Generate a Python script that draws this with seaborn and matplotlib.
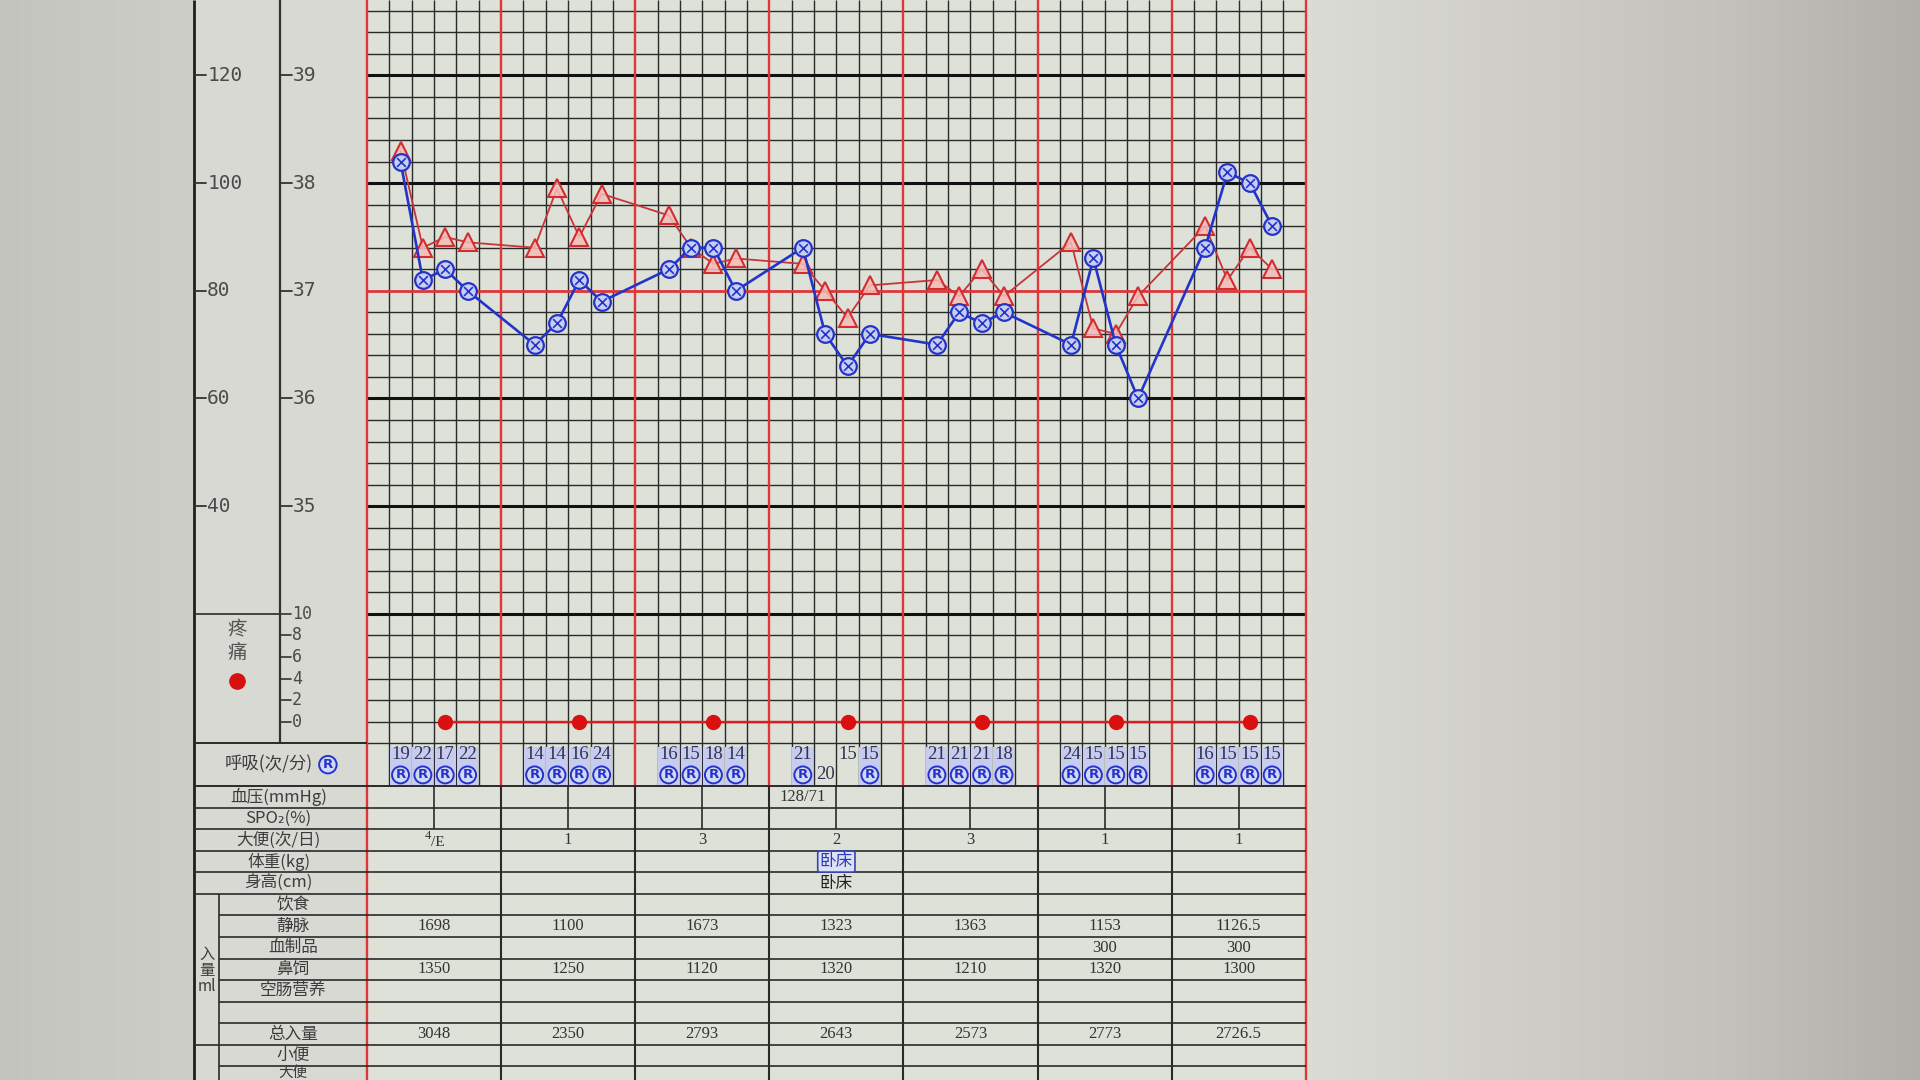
import numpy as np
import pandas as pd
import matplotlib
matplotlib.use("Agg")
import matplotlib.pyplot as plt
from matplotlib.patches import Rectangle
from matplotlib.colors import LinearSegmentedColormap
import seaborn as sns

sns.set_style("white")
plt.rcParams['font.family'] = ['Noto Sans CJK SC', 'DejaVu Sans']

# ---------------- values ----------------
day_no = [1, 2, 3, 4, 5, 6, 7]
slot_no = [1, 2, 3, 4]          # 6 time slots a day, readings in slots 1..4

temperature = [38.3, 37.4, 37.5, 37.45,
               37.4, 37.95, 37.5, 37.9,
               37.7, 37.4, 37.25, 37.3,
               37.25, 37.0, 36.75, 37.05,
               37.1, 36.95, 37.2, 36.95,
               37.45, 36.65, 36.6, 36.95,
               37.6, 37.1, 37.4, 37.2]
pulse = [104, 82, 84, 80,
         70, 74, 82, 78,
         84, 88, 88, 80,
         88, 72, 66, 72,
         70, 76, 74, 76,
         70, 86, 70, 60,
         88, 102, 100, 92]
resp = [19, 22, 17, 22,
        14, 14, 16, 24,
        16, 15, 18, 14,
        21, 20, 15, 15,
        21, 21, 21, 18,
        24, 15, 15, 15,
        16, 15, 15, 15]
resp_r = [True, True, True, True,
          True, True, True, True,
          True, True, True, True,
          True, False, False, True,
          True, True, True, True,
          True, True, True, True,
          True, True, True, True]
pain = [0, 0, 0, 0, 0, 0, 0]
pain_slot = 3

blood_pressure = ['', '', '', '128/71', '', '', '']
stool = ['4/E', '1', '3', '2', '3', '1', '1']
weight = ['', '', '', '卧床', '', '', '']
height = ['', '', '', '卧床', '', '', '']
iv_in = ['1698', '1100', '1673', '1323', '1363', '1153', '1126.5']
blood_in = ['', '', '', '', '', '300', '300']
tube_in = ['1350', '1250', '1120', '1320', '1210', '1320', '1300']
total_in = ['3048', '2350', '2793', '2643', '2573', '2773', '2726.5']

pulse_ticks = [120, 100, 80, 60, 40]
temp_ticks = [39, 38, 37, 36, 35]
pain_ticks = [10, 8, 6, 4, 2, 0]
row_labels = ['血压(mmHg)', 'SPO₂(%)', '大便(次/日)', '体重(kg)', '身高(cm)',
              '饮食', '静脉', '血制品', '鼻饲', '空肠营养', '', '总入量', '小便', '大便']

vitals = pd.DataFrame({
    'day': np.repeat(day_no, len(slot_no)),
    'slot': np.tile(slot_no, len(day_no)),
    'temp': temperature, 'pulse': pulse, 'resp': resp, 'resp_r': resp_r})
vitals['x'] = (vitals['day'] - 1) * 6 + vitals['slot'] + 0.5
pain_df = pd.DataFrame({'day': day_no, 'pain': pain})
pain_df['x'] = (pain_df['day'] - 1) * 6 + pain_slot + 0.5

# ---------------- layout ----------------
COL, DEG = 22.35, 107.7          # px per time column / per degree
X0, T_TOP = 367, 39.7
W, H = 1920, 1080
XL = (-X0 / COL, (W - X0) / COL)
YL = (T_TOP - H / DEG, T_TOP)
NCOL = 42
X_FORM, X_TEMP, X_SUB = -7.75, -3.9, -6.6
GRID_BOT, RESP_BOT, ROW = 32.8, 32.4, 0.2

INK = '#2a2a2a'
RED = '#e0363a'
BLUE = '#2434c8'
LABEL = '#3c3c3c'
NUM_FONT = ['Liberation Serif', 'DejaVu Serif']
AX_FONT = ['DejaVu Sans Mono']


def to_pulse(t):
    return 20 * t - 660


def to_pain(t):
    return 10 * (t - 33)


fig = plt.figure(figsize=(W / 100, H / 100), dpi=100, facecolor='#c8c8c2')
ax = fig.add_axes([0, 0, 1, 1])
ax.set_xlim(XL)
ax.set_ylim(YL)
ax.axis('off')
axp = ax.twinx()        # pulse scale
axp.set_ylim(to_pulse(YL[0]), to_pulse(YL[1]))
axp.axis('off')
axn = ax.twinx()        # pain scale
axn.set_ylim(to_pain(YL[0]), to_pain(YL[1]))
axn.axis('off')

# backgrounds: wall/screen around the form, paper, grid
grad = np.linspace(0, 1, 256)[None, :]
left_cm = LinearSegmentedColormap.from_list('l', ['#c3c4bd', '#cdcec7'])
right_cm = LinearSegmentedColormap.from_list('r', ['#dcdcd6', '#cfcec9', '#c4c2bd', '#b2afaa'])
ax.imshow(grad, extent=(XL[0], X_FORM, YL[0], YL[1]), aspect='auto', cmap=left_cm, zorder=0)
ax.imshow(grad, extent=(NCOL, XL[1], YL[0], YL[1]), aspect='auto', cmap=right_cm, zorder=0)
ax.add_patch(Rectangle((X_FORM, YL[0]), -X_FORM, YL[1] - YL[0], fc='#d7d9d2', ec='none', zorder=0))
ax.add_patch(Rectangle((0, YL[0]), NCOL, YL[1] - YL[0], fc='#dde1d8', ec='none', zorder=0))

# chart grid: horizontal lines every 0.2 degree
for t in np.round(np.arange(GRID_BOT, T_TOP, ROW), 1):
    if abs(t - 37) < 1e-6:
        ax.hlines(t, 0, NCOL, color=RED, lw=2.0, zorder=2)
    elif abs(t - round(t)) < 1e-6 and t > 33.5:
        ax.hlines(t, 0, NCOL, color='#111111', lw=2.2, zorder=2)
    else:
        ax.hlines(t, 0, NCOL, color=INK, lw=1.0, zorder=1)

# vertical lines: time columns (black), day borders (red)
for c in range(NCOL + 1):
    if c % 6 == 0:
        bottom = YL[0] if c in (0, NCOL) else RESP_BOT
        ax.vlines(c, bottom, YL[1], color=RED, lw=1.7, zorder=3)
        if c not in (0, NCOL):
            ax.vlines(c, YL[0], RESP_BOT, color=INK, lw=1.5, zorder=3)
    else:
        ax.vlines(c, RESP_BOT, YL[1], color=INK, lw=1.0, zorder=1)

# left scale columns
ax.vlines(X_FORM, YL[0], YL[1], color='#1e1e1e', lw=2.0, zorder=3)
ax.vlines(X_TEMP, GRID_BOT, YL[1], color='#333333', lw=1.6, zorder=3)
ax.hlines(GRID_BOT, X_FORM, 0, color=INK, lw=1.4, zorder=3)
ax.hlines(34, X_FORM, X_TEMP, color=INK, lw=1.2, zorder=3)

for p in pulse_ticks:
    axp.plot([X_FORM, X_FORM + 0.55], [p, p], color='#333333', lw=1.3)
    axp.text(X_FORM + 0.6, p, str(p), fontsize=14, color='#4a4a4a', family=AX_FONT,
             ha='left', va='center')
for t in temp_ticks:
    ax.plot([X_TEMP, X_TEMP + 0.55], [t, t], color='#333333', lw=1.3, zorder=3)
    ax.text(X_TEMP + 0.6, t, str(t), fontsize=14, color='#4a4a4a', family=AX_FONT,
            ha='left', va='center')
for k in pain_ticks:
    axn.plot([X_TEMP, X_TEMP + 0.5], [k, k], color='#333333', lw=1.2)
    axn.text(X_TEMP + 0.55, k, str(k), fontsize=12, color='#4a4a4a', family=AX_FONT,
             ha='left', va='center')
pain_lbl_x = (X_FORM + X_TEMP) / 2
axn.text(pain_lbl_x, 8.6, '疼', fontsize=14, color='#555555', ha='center', va='center')
axn.text(pain_lbl_x, 6.4, '痛', fontsize=14, color='#555555', ha='center', va='center')
axn.plot([pain_lbl_x], [3.8], marker='o', ms=11, color='#d81010', mec='#d81010')

# ---------------- bottom table ----------------
ax.hlines(RESP_BOT, X_FORM, NCOL, color=INK, lw=1.4, zorder=3)
for i in range(1, len(row_labels) + 1):
    t = RESP_BOT - ROW * i
    start = X_SUB if (6 <= i <= 11 or i == 13) else X_FORM
    ax.hlines(t, start, NCOL, color=INK, lw=1.2, zorder=3)
ax.vlines(X_SUB, YL[0], RESP_BOT - 5 * ROW, color=INK, lw=1.2, zorder=3)
for d in range(len(day_no)):
    ax.vlines(6 * d + 3, RESP_BOT - 2 * ROW, RESP_BOT, color=INK, lw=1.2, zorder=3)

ax.text(-4.4, (GRID_BOT + RESP_BOT) / 2, '呼吸(次/分)', fontsize=12.5, color=LABEL,
        ha='center', va='center')
ax.text(-1.75, (GRID_BOT + RESP_BOT) / 2, 'R', fontsize=9.5, color=BLUE, fontweight='bold',
        family=['DejaVu Sans'], ha='center', va='center', zorder=6,
        bbox=dict(boxstyle='circle,pad=0.17', fc='#d2d7f6', ec=BLUE, lw=1.4))

last = len(row_labels) - 1
for i, lab in enumerate(row_labels):
    yc = RESP_BOT - ROW * i - ROW / 2
    xc = -3.95 if i < 5 else X_SUB / 2
    if i == last:
        # last row is cut by the bottom edge of the photo; keep its text inside
        ax.text(xc, YL[0] + 0.004, lab, fontsize=10.5, color=LABEL, ha='center', va='bottom')
    else:
        ax.text(xc, yc, lab, fontsize=12, color=LABEL, ha='center', va='center')
sub_x = (X_FORM + X_SUB) / 2
for yc, ch in zip([30.84, 30.69, 30.54], ['入', '量', 'ml']):
    ax.text(sub_x, yc, ch, fontsize=11, color=LABEL, ha='center', va='center')

# respiration row
for _, r in vitals.iterrows():
    if r['resp_r']:
        ax.add_patch(Rectangle((r['x'] - 0.47, RESP_BOT + 0.015), 0.94, 0.345,
                               fc='#c6cbef', ec='none', zorder=2))
        ax.text(r['x'], RESP_BOT + 0.29, str(r['resp']), fontsize=13.5, color='#2e3450',
                family=NUM_FONT, ha='center', va='center', zorder=6)
        ax.text(r['x'], RESP_BOT + 0.105, 'R', fontsize=9.5, color=BLUE, fontweight='bold',
                family=['DejaVu Sans'], ha='center', va='center', zorder=6,
                bbox=dict(boxstyle='circle,pad=0.15', fc='#d2d7f6', ec=BLUE, lw=1.4))
    else:
        low = r['slot'] == 2
        ax.text(r['x'], RESP_BOT + (0.11 if low else 0.29), str(r['resp']), fontsize=13.5,
                color='#2e3450', family=NUM_FONT, ha='center', va='center', zorder=6)

num_kw = dict(fontsize=12, color='#333333', family=NUM_FONT, ha='center', va='center', zorder=6)
for d in range(len(day_no)):
    xc = 6 * d + 3
    if blood_pressure[d]:
        ax.text(6 * d + 1.5, RESP_BOT - ROW / 2, blood_pressure[d], **num_kw)
    y_st = RESP_BOT - 2.5 * ROW
    if '/' in stool[d]:
        top, rest = stool[d].split('/')
        ax.text(xc - 0.15, y_st + 0.04, top, fontsize=9, color='#333333', family=NUM_FONT,
                ha='right', va='center', zorder=6)
        ax.text(xc - 0.15, y_st - 0.02, '/' + rest, fontsize=11, color='#333333',
                family=NUM_FONT, ha='left', va='center', zorder=6)
    else:
        ax.text(xc, y_st, stool[d], **num_kw)
    if weight[d]:
        ax.text(xc, RESP_BOT - 3.5 * ROW, weight[d], fontsize=12, color='#2a3ab8',
                ha='center', va='center', zorder=6,
                bbox=dict(boxstyle='round,pad=0.12', fc='#dde1f4', ec='#3545b5', lw=1.2))
    if height[d]:
        ax.text(xc, RESP_BOT - 4.5 * ROW, height[d], fontsize=12, color='#222222',
                ha='center', va='center', zorder=6)
    for k, vals in [(6, iv_in), (7, blood_in), (8, tube_in), (11, total_in)]:
        if vals[d]:
            ax.text(xc, RESP_BOT - (k + 0.5) * ROW, vals[d], **num_kw)

# ---------------- data series ----------------
sns.lineplot(data=vitals, x='x', y='temp', ax=ax, color='#c8343a', lw=1.3, marker='^',
             markersize=12.5, markerfacecolor=(0.96, 0.74, 0.72, 0.85),
             markeredgecolor='#d42c30', markeredgewidth=1.5, sort=False,
             estimator=None, zorder=7)
sns.lineplot(data=vitals, x='x', y='pulse', ax=axp, color=BLUE, lw=1.9, marker='o',
             markersize=12, markerfacecolor='#c8cef2', markeredgecolor=BLUE,
             markeredgewidth=1.6, sort=False, estimator=None, zorder=7)
sns.scatterplot(data=vitals, x='x', y='pulse', ax=axp, marker='x', s=40, color=BLUE,
                linewidth=1.2, zorder=8)
sns.lineplot(data=pain_df, x='x', y='pain', ax=axn, color='#d81e1e', lw=1.7, marker='o',
             markersize=10, markerfacecolor='#d81010', markeredgecolor='#d81010',
             markeredgewidth=1.0, sort=False, estimator=None, zorder=7)

for a in (ax, axp, axn):
    a.set_xlim(XL)
    a.axis('off')
ax.set_ylim(YL)
axp.set_ylim(to_pulse(YL[0]), to_pulse(YL[1]))
axn.set_ylim(to_pain(YL[0]), to_pain(YL[1]))

fig.savefig('out.png', dpi=100)
